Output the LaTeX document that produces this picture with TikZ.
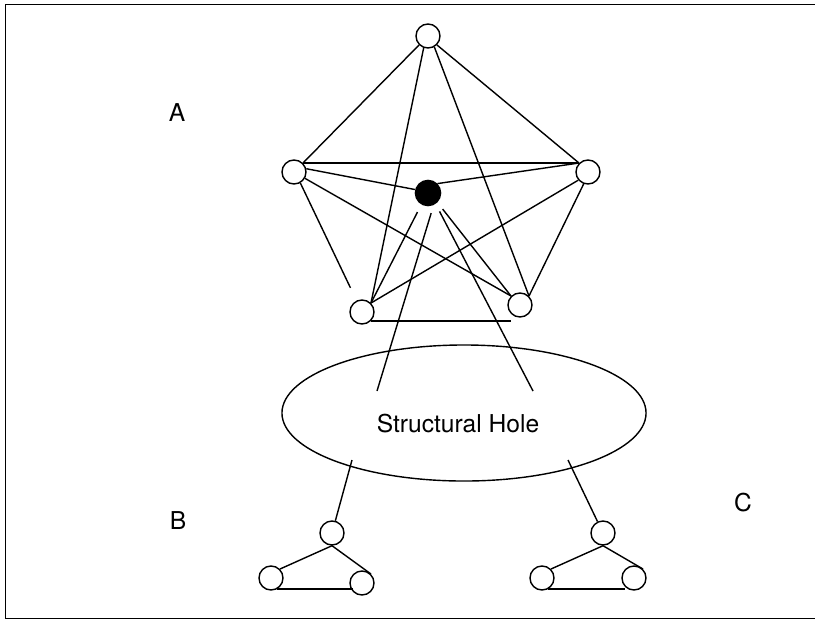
\documentclass[tikz,border=0pt]{standalone}
\usepackage{fontspec}
\setmainfont{TeX Gyre Heros}
\usetikzlibrary{shapes.geometric,calc}
\tikzset{
  actor/.style={circle, draw, line width=1pt, minimum size=6mm, inner sep=0pt},
  broker/.style={actor, fill=black, minimum size=6.3mm},
  hole/.style={ellipse, draw, line width=1pt, minimum width=9.1cm, minimum height=3.4cm},
  tie/.style={line width=1pt},
  tag/.style={font=\fontsize{17.5}{20}\selectfont}
}

\begin{document}
\begin{tikzpicture}[x=0.025cm, y=-0.025cm]
  \useasboundingbox (0,0) rectangle (815,620);
  % --- frame ---
  \draw[line width=0.7pt] (816,4) -- (5,4) -- (5,618) -- (816,618);
  % --- group A: dense network round the broker ---
  \node[tag] (la) at (177,113) {A};
  \node[actor] (top) at (428,36) {};
  \node[actor] (left) at (294,172) {};
  \node[actor] (right) at (588,172) {};
  \node[actor] (bl) at (362,312) {};
  \node[actor] (br) at (520,305) {};
  \node[broker] (hub) at (428,193) {};
  \draw[tie] (top.-135) -- (left.north east);
  \draw[tie] (top.-45) -- (right.north west);
  \draw[tie] (top.-110) -- (bl.north east);
  \draw[tie] (top.-60) -- (br.north east);
  \draw[tie] (left.north east) -- (right.north west);
  \draw[tie] (left.15) -- (hub.165);
  \draw[tie] (hub.north east) -- (right.north west);
  \draw[tie, shorten >=10pt] (left.-60) -- (bl);
  \draw[tie] (left.-30) -- (br.north west);
  \draw[tie] (right.-140) -- (bl.north east);
  \draw[tie] (right.-110) -- (br.north east);
  \draw[tie, shorten <=6pt] (hub.-120) -- (bl.north east);
  \draw[tie, shorten <=6pt] (hub.-45) -- (br.north west);
  \draw[tie] (bl.south east) -- (bl.south east -| br.south west);
  % --- the hole ---
  \node[hole] (hole) at (464,413) {};
  \node[tag] (holetext) at (458,424) {Structural Hole};
  \coordinate (ha1) at (377,391);
  \coordinate (ha2) at (533,391);
  \coordinate (hb) at (352,460);
  \coordinate (hc) at (568,460);
  \draw[tie, shorten <=6pt] (hub.-65) -- (ha1);
  \draw[tie, shorten <=6pt] (hub.-55) -- (ha2);
  % --- group B ---
  \node[tag] (lb) at (178,521) {B};
  \node[actor] (b1) at (332,533) {};
  \node[actor] (b2) at (271,578) {};
  \node[actor] (b3) at (362,583) {};
  \draw[tie] (hb) -- (b1);
  \draw[tie] (b1.south) -- (b2.north east);
  \draw[tie] (b1.south) -- (b3.north east);
  \draw[tie] (b2.-60) -- (b2.-60 -| b3.south west);
  % --- group C ---
  \node[tag] (lc) at (743,503) {C};
  \node[actor] (c1) at (603,533) {};
  \node[actor] (c2) at (542,578) {};
  \node[actor] (c3) at (634,578) {};
  \draw[tie] (hc) -- (c1);
  \draw[tie] (c1.south) -- (c2.north east);
  \draw[tie] (c1.south) -- (c3.north east);
  \draw[tie] (c2.-60) -- (c2.-60 -| c3.south west);
\end{tikzpicture}
\end{document}
